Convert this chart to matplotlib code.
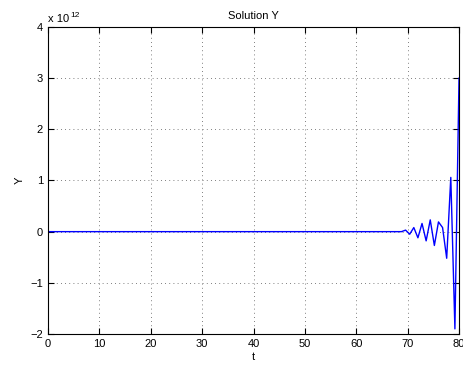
import numpy as np
import matplotlib
matplotlib.use('Agg')
import matplotlib.pyplot as plt

plt.rcParams['font.family'] = ['Liberation Sans', 'DejaVu Sans']

# time grid, step 0.8 from 0 to 80
t = np.linspace(0, 80, 101)

# solution values in units of 1e12 (flat near zero until t ~ 69)
y_flat = [0.0] * 87
y_tail = [0.03, -0.05, 0.08, -0.12, 0.16, -0.18, 0.23, -0.27,
          0.19, 0.08, -0.52, 1.06, -1.90, 3.00]
y = np.array(y_flat + y_tail)

xticks = [0, 10, 20, 30, 40, 50, 60, 70, 80]
yticks = [-2, -1, 0, 1, 2, 3, 4]

fig = plt.figure(figsize=(4.63, 3.69), dpi=100)
ax = fig.add_axes([0.1037, 0.0949, 0.8877, 0.832])
ax.plot(t, y, color='blue', linewidth=1.0)

ax.set_xlim(0, 80)
ax.set_ylim(-2, 4)
ax.set_xticks(xticks)
ax.set_yticks(yticks)
ax.tick_params(direction='in', top=True, right=True, labelsize=8, length=4)
ax.grid(True, linestyle=(0, (1, 4)), color='#555555', linewidth=0.6)
for s in ax.spines.values():
    s.set_linewidth(0.8)

ax.set_title('Solution Y', fontsize=8, pad=6)
ax.set_xlabel('t', fontsize=8, labelpad=2)
ax.set_ylabel('Y', fontsize=8, labelpad=4)
# MATLAB style exponent label
fig.text(0.104, 0.940, 'x 10', fontsize=8)
fig.text(0.153, 0.955, '12', fontsize=6)

plt.savefig('out.png', dpi=100)
